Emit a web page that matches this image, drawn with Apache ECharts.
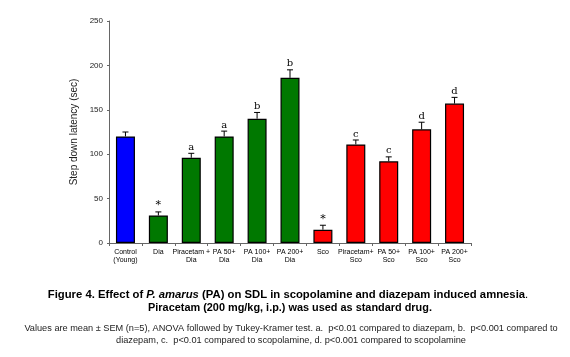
<!DOCTYPE html>
<html>
<head>
<meta charset="utf-8">
<script src="https://cdn.jsdelivr.net/npm/echarts@6/dist/echarts.min.js"></script>
<style>
  html, body { margin: 0; padding: 0; background: #fff; }
  #chart { width: 570px; height: 357px; }
</style>
</head>
<body>
<div id="chart"></div>
<script>
const groups = [
  "Control\n(Young)", "Dia", "Piracetam +\nDia", "PA 50+\nDia", "PA 100+\nDia", "PA 200+\nDia",
  "Sco", "Piracetam+\nSco", "PA 50+\nSco", "PA 100+\nSco", "PA 200+\nSco"
];
const latency = [120, 31, 96, 120, 140, 186, 15, 111, 92, 128, 157];
const sem = [5, 4, 5, 6, 7, 9, 5, 5, 5, 8, 7];
const marks = ["", "*", "a", "a", "b", "b", "*", "c", "c", "d", "d"];
const barColors = ["#0000ff", "#007800", "#007800", "#007800", "#007800", "#007800",
  "#ff0000", "#ff0000", "#ff0000", "#ff0000", "#ff0000"];
const yTicks = [0, 50, 100, 150, 200, 250];

const chart = echarts.init(document.getElementById("chart"));

const errData = latency.map((v, i) => [i, v, sem[i], marks[i]]);

const titleSize = 11.3;
const noteSize = 9.2;

const option = {
  backgroundColor: "#fff",
  animation: false,
  grid: { left: 109, right: 99, top: 21, bottom: 114 },
  graphic: [
    {
      type: "text",
      x: 288, y: 295,
      style: {
        text: "{b|Figure 4. Effect of }{bi|P. amarus}{b| (PA) on SDL in scopolamine and diazepam induced amnesia}{n|.}",
        align: "center", verticalAlign: "middle",
        rich: {
          b: { fontFamily: "Liberation Sans", fontWeight: "bold", fontSize: titleSize },
          bi: { fontFamily: "Liberation Sans", fontWeight: "bold", fontStyle: "italic", fontSize: titleSize },
          n: { fontFamily: "Liberation Sans", fontSize: titleSize }
        }
      }
    },
    {
      type: "text",
      x: 290, y: 308,
      style: {
        text: "Piracetam (200 mg/kg, i.p.) was used as standard drug.",
        align: "center", verticalAlign: "middle",
        fontFamily: "Liberation Sans", fontWeight: "bold", fontSize: 10.9, fill: "#000"
      }
    },
    {
      type: "text",
      x: 291, y: 328,
      style: {
        text: "Values are mean \u00b1 SEM (n=5), ANOVA followed by Tukey-Kramer test. a.  p<0.01 compared to diazepam, b.  p<0.001 compared to",
        align: "center", verticalAlign: "middle",
        fontFamily: "Liberation Sans", fontSize: noteSize, fill: "#222"
      }
    },
    {
      type: "text",
      x: 291, y: 340,
      style: {
        text: "diazepam, c.  p<0.01 compared to scopolamine, d. p<0.001 compared to scopolamine",
        align: "center", verticalAlign: "middle",
        fontFamily: "Liberation Sans", fontSize: noteSize, fill: "#222"
      }
    }
  ],
  xAxis: {
    type: "category",
    data: groups,
    axisLine: { lineStyle: { color: "#666", width: 1 } },
    axisTick: { show: true, length: 3, lineStyle: { color: "#666" } },
    axisLabel: { fontFamily: "Liberation Sans", fontSize: 7, color: "#000", lineHeight: 8, margin: 5, interval: 0 }
  },
  yAxis: {
    type: "value",
    min: 0,
    max: 250,
    interval: 50,
    name: "Step down latency (sec)",
    nameLocation: "middle",
    nameGap: 30,
    nameTextStyle: { fontFamily: "Liberation Sans", fontSize: 10, color: "#222" },
    axisLine: { show: true, lineStyle: { color: "#666", width: 1 } },
    axisTick: { show: true, length: 2, lineStyle: { color: "#666" } },
    splitLine: { show: false },
    axisLabel: {
      fontFamily: "Liberation Sans", fontSize: 8, color: "#222", margin: 6,
      formatter: (v) => (yTicks.includes(v) ? String(v) : "")
    }
  },
  series: [
    {
      type: "bar",
      barWidth: 19,
      data: latency.map((v, i) => ({
        value: v,
        itemStyle: { color: barColors[i], borderColor: "#000", borderWidth: 1.2 }
      }))
    },
    {
      type: "custom",
      data: errData,
      z: 5,
      renderItem: (params, api) => {
        const i = api.value(0);
        const top = api.coord([i, api.value(1)]);
        const hi = api.coord([i, api.value(1) + api.value(2)]);
        const mark = marks[i];
        const children = [
          { type: "line", shape: { x1: top[0], y1: top[1], x2: hi[0], y2: hi[1] }, style: { stroke: "#000", lineWidth: 1 } },
          { type: "line", shape: { x1: hi[0] - 3, y1: hi[1], x2: hi[0] + 3, y2: hi[1] }, style: { stroke: "#000", lineWidth: 1 } }
        ];
        if (mark) {
          children.push({
            type: "text",
            style: {
              text: mark, x: hi[0], y: hi[1] - 1,
              align: "center", verticalAlign: "bottom",
              fontFamily: "DejaVu Serif", fontSize: mark === "*" ? 11 : 10, fill: "#000"
            }
          });
        }
        return { type: "group", children };
      }
    }
  ]
};

chart.setOption(option);
</script>
</body>
</html>
